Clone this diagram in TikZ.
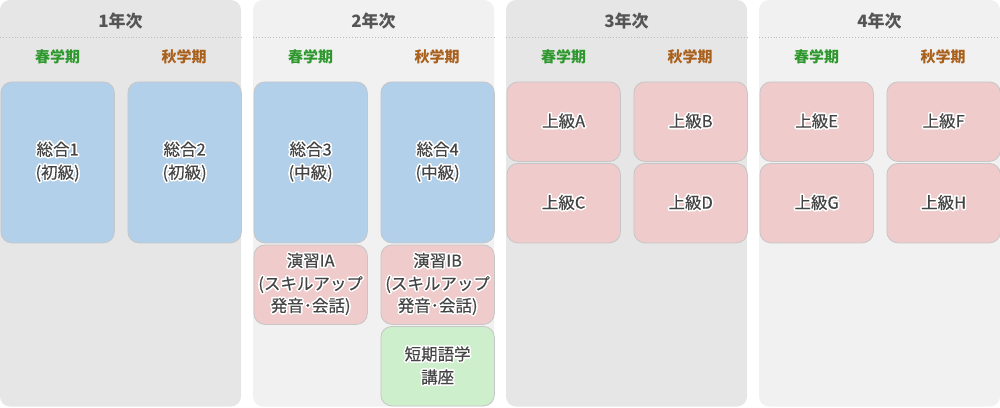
\documentclass[tikz,border=0pt]{standalone}
\usepackage{fontspec}
\setmainfont{Noto Sans CJK JP}
\newfontfamily\boxfont[FakeBold=0.3]{Noto Sans CJK JP}
\usepackage{contour}
\contourlength{1.5pt}
\contournumber{16}
\newcommand\halo[1]{\contour{white}{#1}}
\definecolor{panelA}{HTML}{E6E6E6}
\definecolor{panelB}{HTML}{F1F1F1}
\definecolor{blueB}{HTML}{B3D0EA}
\definecolor{pinkB}{HTML}{EFCBCB}
\definecolor{greenB}{HTML}{CDEFCB}
\definecolor{edgeC}{HTML}{C6C6C6}
\definecolor{txtC}{HTML}{444444}
\definecolor{headC}{HTML}{555555}
\definecolor{springC}{HTML}{2E982E}
\definecolor{autumnC}{HTML}{A9601C}
\definecolor{dotC}{HTML}{BDBDBD}
\tikzset{
  panel/.style={fill=#1, rounded corners=10pt},
  box/.style={draw=edgeC, line width=0.8pt, fill=#1, rounded corners=11pt, anchor=north west,
    minimum width=113.5pt, inner sep=0pt, align=center, text=txtC,
    font=\boxfont\fontsize{16.5}{23}\selectfont},
  small/.style={minimum height=79.5pt},
  big/.style={minimum height=161pt},
  yearlbl/.style={text=headC, font=\bfseries\fontsize{17}{18}\selectfont},
  semlbl/.style={font=\bfseries\fontsize{15}{16}\selectfont},
  sep/.style={draw=dotC, dotted, line width=0.9pt}
}
\begin{document}
\begin{tikzpicture}[x=1pt,y=-1pt]
\useasboundingbox (0,0) rectangle (1000,407);
% panels
\path[panel=panelA] (0,0) rectangle (241,406.5);
\path[panel=panelB] (253,0) rectangle (494,406.5);
\path[panel=panelA] (506,0) rectangle (747,406.5);
\path[panel=panelB] (759,0) rectangle (1000,406.5);
% dotted separators
\foreach \x in {0,253,506,759}{
  \coordinate (s\x) at (\x,37.5);
  \coordinate (e\x) at (\x+241,37.5);
  \draw[sep] (s\x) -- (e\x);
}
% year labels
\node[yearlbl] (y1) at (120.5,21) {1年次};
\node[yearlbl] (y2) at (373.5,21) {2年次};
\node[yearlbl] (y3) at (626.5,21) {3年次};
\node[yearlbl] (y4) at (879.5,21) {4年次};
% semester labels
\foreach \x/\n in {0/a,253/b,506/c,759/d}{
  \node[semlbl, text=springC] (sp\n) at (\x+57.5,57) {春学期};
  \node[semlbl, text=autumnC] (au\n) at (\x+184,57) {秋学期};
}
% year 1
\node[box=blueB, big] (g1) at (0.5,81.5) {\halo{総合1}\\\halo{(初級)}};
\node[box=blueB, big] (g2) at (127.5,81.5) {\halo{総合2}\\\halo{(初級)}};
% year 2
\node[box=blueB, big] (g3) at (253.5,81.5) {\halo{総合3}\\\halo{(中級)}};
\node[box=blueB, big] (g4) at (380.5,81.5) {\halo{総合4}\\\halo{(中級)}};
\node[box=pinkB, small] (e1) at (253.5,244.5) {\halo{演習IA}\\\halo{(スキルアップ}\\[-1pt]\halo{発音･会話)}};
\node[box=pinkB, small] (e2) at (380.5,244.5) {\halo{演習IB}\\\halo{(スキルアップ}\\[-1pt]\halo{発音･会話)}};
\node[box=greenB, small] (t1) at (380.5,326) {\halo{短期語学}\\\halo{講座}};
% year 3
\node[box=pinkB, small] (jA) at (506.5,81.5) {\halo{上級A}};
\node[box=pinkB, small] (jB) at (633.5,81.5) {\halo{上級B}};
\node[box=pinkB, small] (jC) at (506.5,163) {\halo{上級C}};
\node[box=pinkB, small] (jD) at (633.5,163) {\halo{上級D}};
% year 4
\node[box=pinkB, small] (jE) at (759.5,81.5) {\halo{上級E}};
\node[box=pinkB, small] (jF) at (886.5,81.5) {\halo{上級F}};
\node[box=pinkB, small] (jG) at (759.5,163) {\halo{上級G}};
\node[box=pinkB, small] (jH) at (886.5,163) {\halo{上級H}};
\end{tikzpicture}
\end{document}
